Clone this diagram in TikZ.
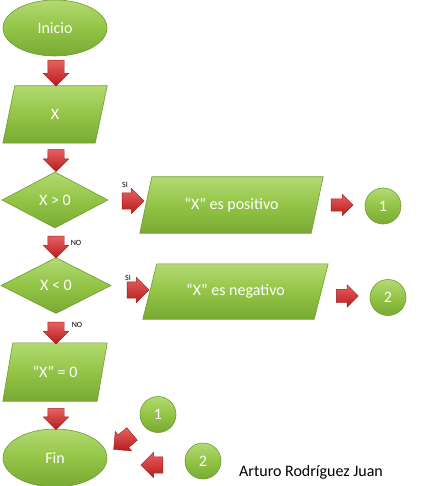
\documentclass[tikz,border=0pt]{standalone}
\usepackage{fontspec}
\setmainfont{Carlito}
\usetikzlibrary{shapes.geometric,shapes.arrows}
\pgfdeclarelayer{bg}
\pgfsetlayers{bg,main}
\definecolor{gtop}{HTML}{B2DA72}
\definecolor{gmid}{HTML}{93C446}
\definecolor{gbot}{HTML}{78AA34}
\definecolor{gedge}{HTML}{6E9B2E}
\definecolor{rtop}{HTML}{E86060}
\definecolor{rbot}{HTML}{B41C1C}
\definecolor{redge}{HTML}{A01818}
\tikzset{
  gshade/.style={top color=gtop, bottom color=gbot, middle color=gmid, draw=gedge, line width=0.6pt},
  gfill/.style={gshade, text=white, font=\fontsize{16}{18}\selectfont, inner sep=0pt},
  termbox/.style={gfill, ellipse, minimum width=104pt, minimum height=56pt},
  iobox/.style={text=white, font=\fontsize{16}{18}\selectfont, inner sep=0pt, rectangle, minimum height=56pt},
  decbox/.style={gfill, diamond, minimum width=106pt, minimum height=56pt},
  conbox/.style={gfill, circle, minimum size=36pt},
  blockarrow/.style={single arrow, top color=rtop, bottom color=rbot, draw=redge,
    line width=0.4pt, inner xsep=0pt, inner ysep=8pt, minimum height=#1, minimum width=25pt,
    single arrow head extend=4.5pt, single arrow head indent=0pt},
  blockarrow/.default=24pt,
  tag/.style={font=\fontsize{8}{9}\selectfont, text=black, inner sep=0pt},
}
\newcommand{\slantfill}[2]{%
  \shade[gshade] ([xshift=#2]#1.north west) -- ([xshift=#2]#1.north east)
    -- ([xshift=-#2]#1.south east) -- ([xshift=-#2]#1.south west) -- cycle;}
\begin{document}
\begin{tikzpicture}[x=1pt,y=-1pt]
\useasboundingbox (0,0) rectangle (424,486);
% main column
\node[termbox] (inicio) at (55,28) {Inicio};
\node[iobox, minimum width=92pt, minimum height=57pt] (x) at (55,114.5) {X};
\node[decbox] (gt) at (55,200) {X > 0};
\node[decbox, minimum width=110pt] (lt) at (56,285.5) {X < 0};
\node[iobox, minimum width=94pt, minimum height=58pt] (zero) at (55,372) {“X” = 0};
\node[termbox, minimum height=58pt] (fin) at (55,458) {Fin};
% branches
\node[iobox, minimum width=171pt] (pos) at (231.5,205) {“X” es positivo};
\node[iobox, minimum width=171pt, minimum height=55pt] (neg) at (235.5,291.5) {“X” es negativo};
\begin{pgfonlayer}{bg}
  \slantfill{x}{6pt}
  \slantfill{zero}{5pt}
  \slantfill{pos}{6pt}
  \slantfill{neg}{7pt}
\end{pgfonlayer}
\node[conbox] (c1) at (383,206) {1};
\node[conbox] (c2) at (388,297.5) {2};
\node[conbox] (d1) at (158,414.5) {1};
\node[conbox] (d2) at (203,461) {2};
% block arrows
\node[blockarrow=26pt, rotate=-90] (a1) at (56,69) {};
\node[blockarrow=22pt, rotate=-90] (a2) at (56,156.5) {};
\node[blockarrow=22pt, rotate=-90] (a3) at (56,243) {};
\node[blockarrow=22pt, rotate=-90] (a4) at (56,329) {};
\node[blockarrow=21pt, rotate=-90] (a5) at (56,415) {};
\node[blockarrow=22pt] (s1) at (129,201) {};
\node[blockarrow=22pt, inner ysep=6pt, minimum width=21pt] (r1) at (339,205) {};
\node[blockarrow=22pt] (s2) at (134,290) {};
\node[blockarrow=22pt, inner ysep=6.5pt, minimum width=22pt] (r2) at (344,296) {};
\node[blockarrow=24pt, rotate=-140] (b1) at (126,439) {};
\node[blockarrow=22pt, rotate=180] (b2) at (156,465) {};
% labels
\node[tag] (si1) at (125,185) {SI};
\node[tag] (si2) at (128,278) {SI};
\node[tag] (no1) at (76,243) {NO};
\node[tag] (no2) at (77,325) {NO};
\node[font=\fontsize{16}{18}\selectfont, text=black, inner sep=0pt] (autor) at (311,472) {Arturo Rodríguez Juan};
\end{tikzpicture}
\end{document}
